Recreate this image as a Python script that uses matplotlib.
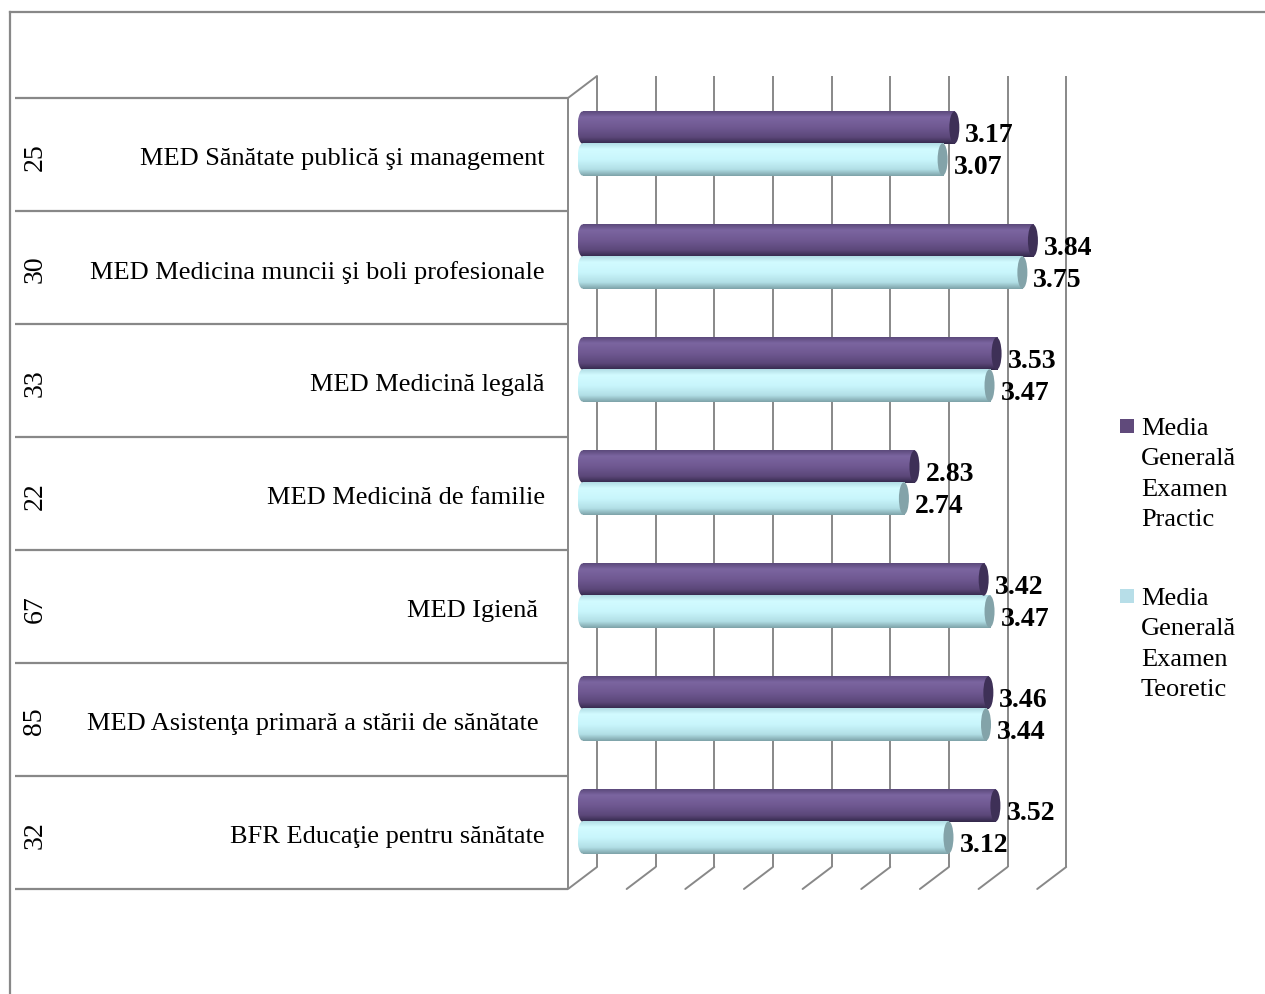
import numpy as np
import matplotlib.pyplot as plt
from matplotlib.patches import Ellipse, Rectangle
from matplotlib.lines import Line2D
from matplotlib.colors import LinearSegmentedColormap
from matplotlib.transforms import ScaledTranslation

plt.rcParams['font.family'] = ['Liberation Serif', 'DejaVu Serif']

# data
counts = ['25', '30', '33', '22', '67', '85', '32']
disciplines = ['MED Sănătate publică şi management',
               'MED Medicina muncii şi boli profesionale',
               'MED Medicină legală',
               'MED Medicină de familie',
               'MED Igienă ',
               'MED Asistenţa primară a stării de sănătate ',
               'BFR Educaţie pentru sănătate']
practic = [3.17, 3.84, 3.53, 2.83, 3.42, 3.46, 3.52]
teoretic = [3.07, 3.75, 3.47, 2.74, 3.47, 3.44, 3.12]
series_names = ['Media\nGenerală\nExamen\nPractic',
                'Media\nGenerală\nExamen\nTeoretic']
grid_ticks = np.arange(0, 4.01, 0.5)

W, H = 1265, 995
fig = plt.figure(figsize=(W / 100, H / 100), dpi=100)


def box(x0, y0, x1, y1):
    # pixel box, origin top-left -> figure fractions
    return [x0 / W, 1 - y1 / H, (x1 - x0) / W, (y1 - y0) / H]


scale = 117.3          # px per unit on the value axis
x_zero = 582.5         # px of value 0 in the middle depth plane
dx, dy = 14.5, 11      # half of the 3-D depth shift, px
gray = '#888888'
n = len(counts)

# plot area (middle depth plane)
ax = fig.add_axes(box(568, 88, 1100, 879))
ax.axis('off')

back = ax.transData + ScaledTranslation(dx / 100, dy / 100, fig.dpi_scale_trans)
front = ax.transData + ScaledTranslation(-dx / 100, -dy / 100, fig.dpi_scale_trans)

# back wall grid and floor / wall diagonals
ax.vlines(grid_ticks, -0.5, n - 0.5, transform=back, colors=gray, lw=1.4,
          clip_on=False, zorder=0)
ax.vlines([0], -0.5, n - 0.5, transform=front, colors=gray, lw=1.4,
          clip_on=False, zorder=0)
diag = dict(arrowstyle='-', color=gray, lw=1.4, shrinkA=0, shrinkB=0)
for t in grid_ticks:
    ax.annotate('', xy=(t, n - 0.5), xycoords=front, xytext=(2 * dx, 2 * dy),
                textcoords='offset pixels', annotation_clip=False,
                arrowprops=diag)
ax.annotate('', xy=(0, -0.5), xycoords=front, xytext=(2 * dx, 2 * dy),
            textcoords='offset pixels', annotation_clip=False, arrowprops=diag)

# cylinders
bar_h = 0.286
off = 0.141
cap_w = 10 / scale
grad = np.linspace(0, 1, 80).reshape(-1, 1)
purple_cmap = LinearSegmentedColormap.from_list(
    'purple', [(0, '#5c4a7c'), (0.18, '#7b65a0'), (0.5, '#6f5891'),
               (0.8, '#5b4779'), (1, '#33284a')])
cyan_cmap = LinearSegmentedColormap.from_list(
    'cyan', [(0, '#b2dde5'), (0.18, '#d2fbff'), (0.5, '#c9f6fc'),
             (0.8, '#b2dfe6'), (1, '#7ea3a9')])

ypos = np.arange(n)
series = [(practic, -off, purple_cmap, '#3e3057'),
          (teoretic, off, cyan_cmap, '#83a3a9')]
for vals, shift, cmap, cap_col in series:
    bars = ax.barh(ypos + shift, vals, height=bar_h, left=0, color='none',
                   edgecolor='none', zorder=2)
    for bar, v, y in zip(bars, vals, ypos + shift):
        y0, y1 = y - bar_h / 2, y + bar_h / 2
        im = ax.imshow(grad, cmap=cmap, aspect='auto', origin='upper',
                       extent=(0, v, y1, y0), zorder=2)
        im.set_clip_path(bar)
        left_end = Ellipse((0, y), cap_w, bar_h, facecolor='none',
                           edgecolor='none')
        ax.add_patch(left_end)
        im2 = ax.imshow(grad, cmap=cmap, aspect='auto', origin='upper',
                        extent=(-cap_w / 2, cap_w / 2, y1, y0), zorder=2)
        im2.set_clip_path(left_end)
        ax.add_patch(Ellipse((v, y), cap_w, bar_h, facecolor=cap_col,
                             edgecolor='none', zorder=3))
        ax.annotate(f'{v:.2f}', xy=(v, y), xytext=(11, -7),
                    textcoords='offset pixels', ha='left', va='center',
                    fontsize=20, fontweight='bold', annotation_clip=False)

ax.set_xlim((568 - x_zero) / scale, (1100 - x_zero) / scale)
ax.set_ylim(n - 0.5, -0.5)

# category table on the left (front plane)
tab = fig.add_axes(box(15, 99, 568, 890))
tab.set_xlim(15, 568)
tab.set_ylim(n - 0.5, -0.5)
tab.axis('off')
tab.hlines(np.arange(n + 1) - 0.5, 15, 568, colors=gray, lw=1.6,
           clip_on=False)
for i, (c, d) in enumerate(zip(counts, disciplines)):
    tab.text(35, i + 0.01, c, rotation=90, ha='center', va='center',
             fontsize=20)
    tab.text(545, i + 0.035, d, ha='right', va='center', fontsize=19)

# outer frame
fig.add_artist(Line2D([10 / W, 10 / W], [0, 1 - 13 / H], color=gray, lw=1.6))
fig.add_artist(Line2D([10 / W, 1], [1 - 13 / H, 1 - 13 / H], color=gray, lw=1.6))

# legend
leg_colors = ['#604a7b', '#b7dee8']
leg_y = [427, 597]
for name, col, ly in zip(series_names, leg_colors, leg_y):
    fig.add_artist(Rectangle((1120 / W, 1 - (ly + 7) / H), 14 / W, 14 / H,
                             transform=fig.transFigure, facecolor=col,
                             edgecolor='none'))
    fig.text(1141 / W, 1 - (ly - 9) / H, name, ha='left', va='top',
             fontsize=19, linespacing=1.49)

fig.savefig('out.png', dpi=100)
